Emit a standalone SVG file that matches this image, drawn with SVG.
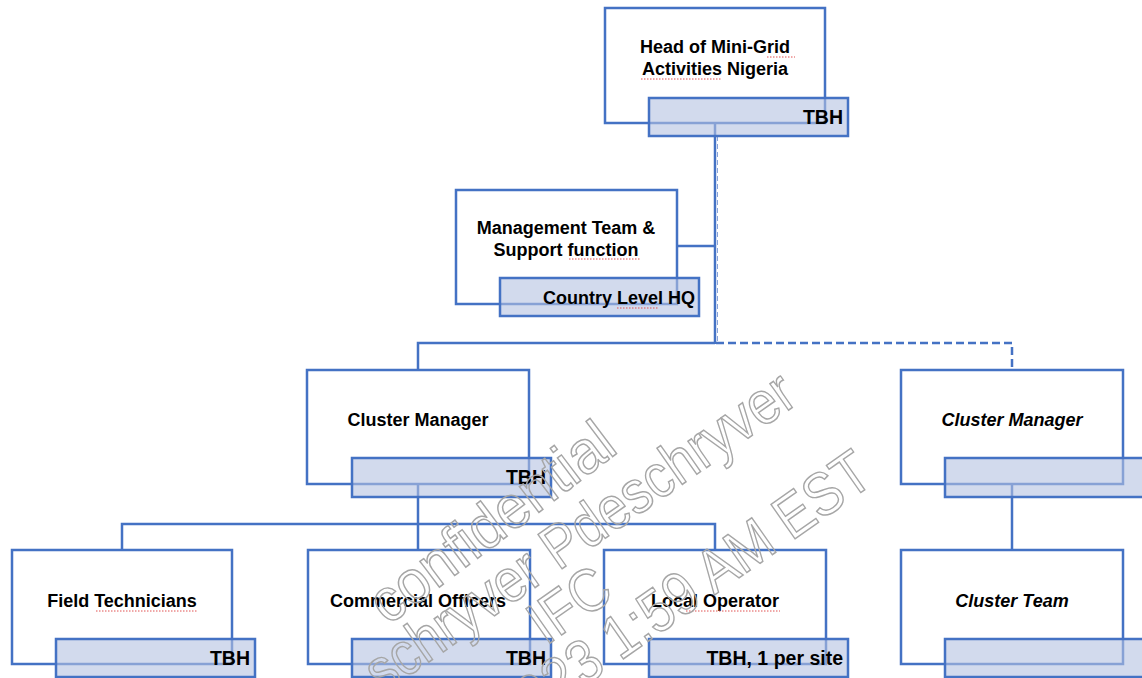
<svg xmlns="http://www.w3.org/2000/svg" width="1142" height="678" viewBox="0 0 1142 678">
<style>
.box{fill:#fff;stroke:#4472C4;stroke-width:2.5}
.bar{fill:#B4C1E1;fill-opacity:0.6;stroke:#4472C4;stroke-width:2.5}
.ln{fill:none;stroke:#4472C4;stroke-width:2.5}
.dash{fill:none;stroke:#4472C4;stroke-width:2.5;stroke-dasharray:8,4}
.t{font-family:"Liberation Sans",Arial,sans-serif;font-weight:bold;font-size:18px;fill:#000;text-anchor:middle}
.it{font-style:italic}
.b{font-family:"Liberation Sans",Arial,sans-serif;font-weight:bold;font-size:19.5px;fill:#000;text-anchor:end}
.sq{fill:none;stroke:#E05050;stroke-width:1;stroke-dasharray:1.5,1.5}
.wm{font-family:"Liberation Sans",Arial,sans-serif;font-size:61px;fill:none;stroke:#A6A6A6;stroke-width:1.5}
</style>
<g id="connectors">
<line class="ln" x1="715" y1="123" x2="715" y2="344"/>
<line x1="717.5" y1="136" x2="717.5" y2="343" stroke="#8AA3D8" stroke-width="1" stroke-dasharray="5,3"/>
<line class="ln" x1="677" y1="246" x2="715" y2="246"/>
<polyline class="ln" points="715,343 418,343 418,370"/>
<polyline class="dash" points="716,343 1012,343 1012,370"/>
<line class="ln" x1="1012" y1="484" x2="1012" y2="550"/>
<line class="ln" x1="418" y1="484" x2="418" y2="550"/>
<polyline class="ln" points="122,550 122,524 715,524 715,550"/>
</g>
<g id="head">
<rect class="box" x="605" y="8" width="220" height="115"/>
<rect class="bar" x="649" y="98" width="199" height="38"/>
<text class="t" x="715" y="53">Head of Mini-Grid</text>
<text class="t" x="715" y="75">Activities Nigeria</text>
<text class="b" x="843" y="124">TBH</text>
<path class="sq" d="M767,57 H795 M641,79 H721"/>
</g>
<g id="management">
<rect class="box" x="456" y="190" width="221" height="114"/>
<rect class="bar" x="500" y="278" width="199" height="38"/>
<text class="t" x="566" y="234">Management Team &amp;</text>
<text class="t" x="566" y="256">Support function</text>
<text class="b" x="695" y="304" style="font-size:18px">Country Level HQ</text>
<path class="sq" d="M569,259 H641 M617,308 H658"/>
</g>
<g id="cluster-manager">
<rect class="box" x="307" y="370" width="222" height="114"/>
<rect class="bar" x="352" y="458" width="199" height="39"/>
<text class="t" x="418" y="426">Cluster Manager</text>
<text class="b" x="546" y="484">TBH</text>
</g>
<g id="cluster-manager-2">
<rect class="box" x="901" y="370" width="222" height="114"/>
<rect class="bar" x="945" y="458" width="215" height="39"/>
<text class="t it" x="1012" y="426">Cluster Manager</text>
</g>
<g id="field-technicians">
<rect class="box" x="12" y="550" width="220" height="114"/>
<rect class="bar" x="56" y="639" width="199" height="38"/>
<text class="t" x="122" y="607">Field Technicians</text>
<text class="b" x="250" y="665">TBH</text>
<path class="sq" d="M96,611 H197"/>
</g>
<g id="commercial-officers">
<rect class="box" x="308" y="550" width="222" height="114"/>
<rect class="bar" x="352" y="639" width="199" height="38"/>
<text class="t" x="418" y="607">Commercial Officers</text>
<text class="b" x="546" y="665">TBH</text>
</g>
<g id="local-operator">
<rect class="box" x="604" y="550" width="222" height="114"/>
<rect class="bar" x="649" y="639" width="199" height="38"/>
<text class="t" x="715" y="607">Local Operator</text>
<text class="b" x="843" y="665">TBH, 1 per site</text>
<path class="sq" d="M686,611 H780"/>
</g>
<g id="cluster-team">
<rect class="box" x="901" y="550" width="222" height="114"/>
<rect class="bar" x="945" y="639" width="215" height="38"/>
<text class="t it" x="1012" y="607">Cluster Team</text>
</g>
<g id="watermark">
<text class="wm" transform="translate(388,626) rotate(-37) scale(0.94,1)">confidential</text>
<text class="wm" transform="translate(800,402) rotate(-35) scale(0.87,1)" text-anchor="end">schryver Pdeschryver</text>
<text class="wm" transform="translate(546,646) rotate(-35) scale(0.87,1)">IFC</text>
<text class="wm" transform="translate(876,482) rotate(-35) scale(0.87,1)" text-anchor="end">023 1:59 AM EST</text>
</g>
</svg>
